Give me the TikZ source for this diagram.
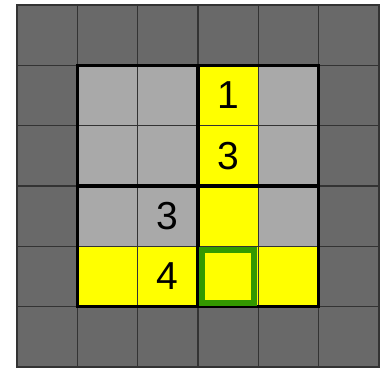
\documentclass[tikz,border=0pt]{standalone}
\usepackage{fontspec}
\setmainfont{Liberation Sans}
\usetikzlibrary{positioning}
\definecolor{wallgray}{HTML}{696969}
\definecolor{cellgray}{HTML}{A9A9A9}
\definecolor{hiyellow}{HTML}{FFFF00}
\definecolor{cursorgreen}{HTML}{339900}

\begin{document}
\begin{tikzpicture}[font=\fontsize{18.4}{20}\selectfont,
  cell/.style={draw=black!80,line width=0.6pt,minimum size=1cm,inner sep=0pt,outer sep=0pt},
  wall/.style={cell,fill=wallgray},
  free/.style={cell,fill=cellgray},
  lit/.style={cell,fill=hiyellow},
  box/.style={black,line width=1.6pt},
  cursor/.style={draw=cursorgreen,line width=2.8pt,minimum size=0.867cm,inner sep=0pt}]
\useasboundingbox (-0.282,-0.033) rectangle (6.033,6.083);
% board, row by row from the top
\foreach \r/\row in {0/{wall,wall,wall,wall,wall,wall},
                     1/{wall,free,free,lit,free,wall},
                     2/{wall,free,free,lit,free,wall},
                     3/{wall,free,free,lit,free,wall},
                     4/{wall,lit,lit,lit,lit,wall},
                     5/{wall,wall,wall,wall,wall,wall}}
  \foreach \s [count=\c from 0] in \row
    \node[\s] (c-\c-\r) at (\c+0.5,5.5-\r) {};
% numbers
\node at (c-3-1) {1};
\node at (c-3-2) {3};
\node at (c-2-3) {3};
\node at (c-2-4) {4};
% thick lines of the inner box
\draw[box] (c-1-4.south west) rectangle (c-4-1.north east);
\draw[box] (c-3-1.north west) -- (c-3-4.south west);
\draw[box] (c-1-3.north west) -- (c-4-3.north east);
% current cell
\node[cursor] (cur) at (c-3-4) {};
\end{tikzpicture}
\end{document}
